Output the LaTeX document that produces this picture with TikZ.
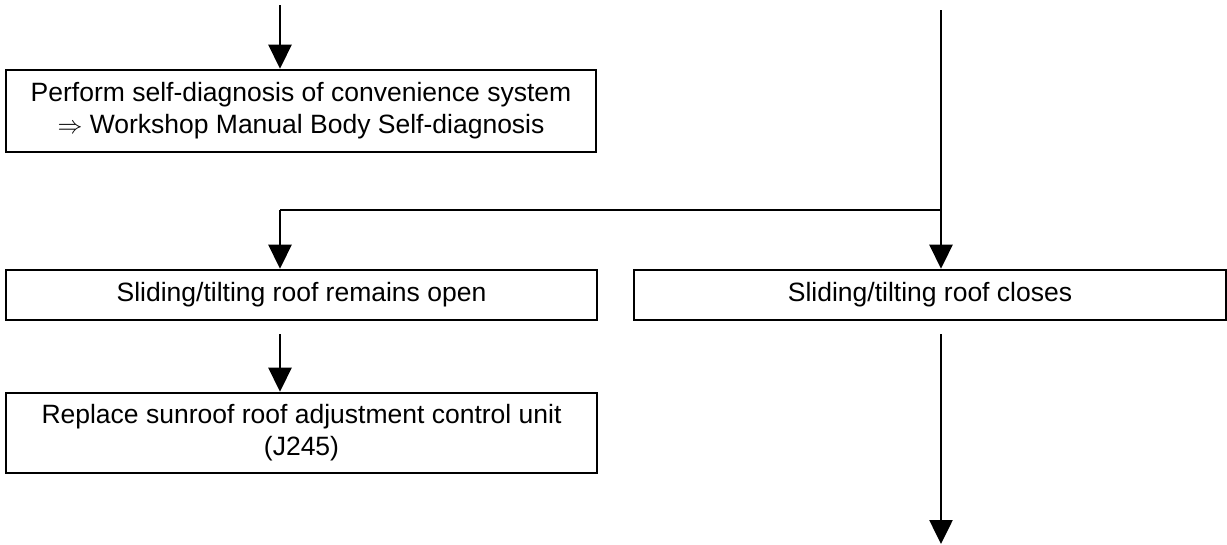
\documentclass[tikz,border=0pt]{standalone}
\usepackage{fontspec}
\setmainfont{Liberation Sans}
\usetikzlibrary{arrows.meta}
\newcommand{\boxtext}[3]{\raisebox{-#1pt}{\begin{tabular}{@{}c@{}}\fontsize{26.5}{#2}\selectfont #3\end{tabular}}}
\begin{document}
\begin{tikzpicture}[x=1pt,y=-1pt,
  box/.style={draw, line width=2.6pt, rectangle, inner sep=0pt, align=center,
    font=\fontsize{26.5}{32}\selectfont},
  conn/.style={line width=2.6pt},
  arr/.style={conn, -{Triangle[length=24pt,width=23pt]}}]
\useasboundingbox (0,0) rectangle (1227,544);
\node[box, minimum width=590pt, minimum height=82pt] (b1) at (301,111)
  {\boxtext{2}{33}{Perform self-diagnosis of convenience system\\ $\Rightarrow$ Workshop Manual Body Self-diagnosis}};
\node[box, minimum width=591pt, minimum height=50pt] (b2) at (301.5,295)
  {\boxtext{3}{32}{Sliding/tilting roof remains open}};
\node[box, minimum width=591pt, minimum height=80pt] (b3) at (301.5,433)
  {\boxtext{5}{30}{Replace sunroof roof adjustment control unit\\ (J245)}};
\node[box, minimum width=592pt, minimum height=50pt] (b4) at (930,295)
  {\boxtext{3}{32}{Sliding/tilting roof closes}};
\coordinate (s1) at (280,5);
\coordinate (s2) at (941,10);
\coordinate (j) at (941,210);
\coordinate (jl) at (280,210);
\coordinate (e) at (941,544);
\draw[arr] (s1) -- (s1 |- b1.north);
\draw[arr] (s2) -- (s2 |- b4.north);
\draw[conn] (j) -- (jl);
\draw[arr] (jl) -- (jl |- b2.north);
\draw[arr, shorten <=13pt] (jl |- b2.south) -- (jl |- b3.north);
\draw[arr, shorten <=13pt] (s2 |- b4.south) -- (e);
\end{tikzpicture}
\end{document}
